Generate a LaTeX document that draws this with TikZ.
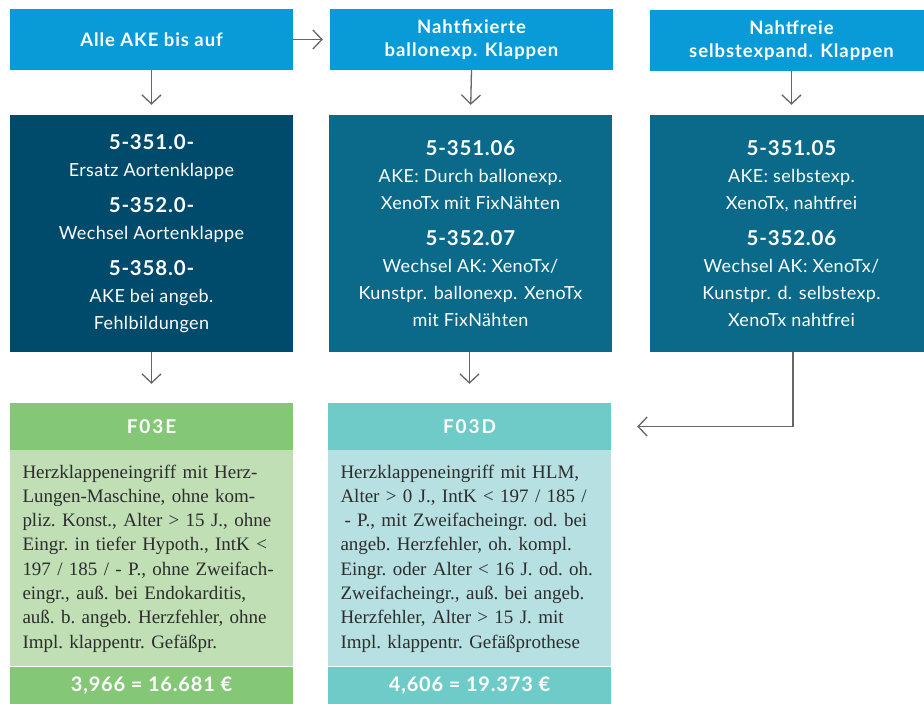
\documentclass[tikz,border=0pt]{standalone}
\usepackage{fontspec}
\setmainfont{Liberation Serif}
\newfontfamily\lato{Lato}
\usetikzlibrary{calc,arrows.meta,positioning}
\definecolor{kblue}{RGB}{9,155,216}
\definecolor{kdark}{RGB}{0,74,107}
\definecolor{kpetrol}{RGB}{11,106,138}
\definecolor{kgreen}{RGB}{132,199,119}
\definecolor{kgreenlt}{RGB}{192,223,181}
\definecolor{kteal}{RGB}{111,203,200}
\definecolor{ktealt}{RGB}{183,224,226}
\definecolor{karrow}{RGB}{102,102,102}
\definecolor{ktext}{RGB}{45,45,45}
\newcommand{\bw}{283pt}
\newcommand{\hh}{61pt}
\newcommand{\mh}{237pt}
\newcommand{\code}[1]{{\fontsize{20.5}{27}\selectfont\bfseries\addfontfeatures{LetterSpace=4}#1}}
\tikzstyle{head}=[rectangle, minimum width=\bw, minimum height=\hh, fill=kblue, text=white, inner sep=0pt, align=center, font=\lato\bfseries\fontsize{18.5}{23}\selectfont\addfontfeatures{LetterSpace=5}]
\tikzstyle{ops}=[head, minimum height=\mh, fill=kpetrol, font=\lato\fontsize{18}{27}\selectfont\addfontfeatures{LetterSpace=2}]
\tikzstyle{drg}=[head, minimum height=47pt, font=\lato\bfseries\fontsize{19}{23}\selectfont\addfontfeatures{LetterSpace=10}]
\tikzstyle{desc}=[head, minimum height=216pt, text=ktext, align=left, text width=\bw-25pt, font=\frenchspacing\fontsize{19}{24.3}\selectfont]
\tikzstyle{price}=[head, minimum height=38pt, font=\lato\bfseries\fontsize{20}{23}\selectfont\addfontfeatures{LetterSpace=4}]
\tikzstyle{flow}=[draw=karrow, line width=1.3pt, -{Straight Barb[length=9pt,width=19pt]}]

\begin{document}
\begin{tikzpicture}[x=1pt,y=-1pt]
        \useasboundingbox (0,0) rectangle (924,704);
        % Kopfzeile
        \node[head] (HA) at (151.5,39.5) {Alle AKE bis auf};
        \node[head] (HB) at (471.5,39.5) {Nahtfixierte\\ballonexp. Klappen};
        \node[head] (HC) at (791.5,40.5) {Nahtfreie\\selbstexpand. Klappen};
        % OPS-Kodes
        \node[ops, fill=kdark] (OA) at (151.5,233.5) {\code{5-351.0-}\\Ersatz Aortenklappe\\[9pt]\code{5-352.0-}\\Wechsel Aortenklappe\\[9pt]\code{5-358.0-}\\AKE bei angeb.\\Fehlbildungen};
        \node[ops] (OB) at (470.5,233.5) {\code{5-351.06}\\AKE: Durch ballonexp.\\XenoTx mit FixN\"ahten\\[9pt]\code{5-352.07}\\Wechsel AK: XenoTx/\\Kunstpr. ballonexp. XenoTx\\mit FixN\"ahten};
        \node[ops] (OC) at (791.5,233.5) {\code{5-351.05}\\AKE: selbstexp.\\XenoTx, nahtfrei\\[9pt]\code{5-352.06}\\Wechsel AK: XenoTx/\\Kunstpr. d. selbstexp.\\XenoTx nahtfrei};
        % DRGs
        \node[drg, fill=kgreen] (DE) at (151.5,426.5) {F03E};
        \node[desc, fill=kgreenlt, below=0pt of DE] (TE) {Herzklappeneingriff mit Herz-\\Lungen-Maschine, ohne kom-\\pliz. Konst., Alter > 15 J., ohne\\Eingr. in tiefer Hypoth., IntK <\\197 / 185 / - P., ohne Zweifach-\\eingr., au\ss. bei Endokarditis,\\au\ss. b. angeb. Herzfehler, ohne\\Impl. klappentr. Gef\"a\ss pr.};
        \node[price, fill=kgreen, below=0pt of TE] (PE) {3,966 = 16.681 €};
        \node[drg, fill=kteal] (DD) at (469.5,426.5) {F03D};
        \node[desc, fill=ktealt, below=0pt of DD] (TD) {Herzklappeneingriff mit HLM,\\Alter > 0 J., IntK < 197 / 185 /\\\hspace*{4pt}- P., mit Zweifacheingr. od. bei\\angeb. Herzfehler, oh. kompl.\\Eingr. oder Alter < 16 J. od. oh.\\Zweifacheingr., au\ss. bei angeb.\\Herzfehler, Alter > 15 J. mit\\Impl. klappentr. Gef\"a\ss prothese};
        \node[price, fill=kteal, below=0pt of TD] (PD) {4,606 = 19.373 €};
        % Pfeile
        \draw[flow, shorten >=7pt] (HA.east) -- (HB.west);
        \draw[flow, shorten >=10pt] (HA.south) -- (OA.north);
        \draw[flow, shorten >=10pt] (HB.south) -- (OB.north);
        \draw[flow, shorten >=10pt] (HC.south) -- (OC.north);
        \draw[flow, shorten >=19pt] (OA.south) -- (DE.north);
        \draw[flow, shorten >=19pt] (OB.south -| DD.north) -- (DD.north);
        \draw[flow, shorten >=26pt] ([xshift=1.5pt]OC.south) |- (DD.east);
\end{tikzpicture}
\end{document}
